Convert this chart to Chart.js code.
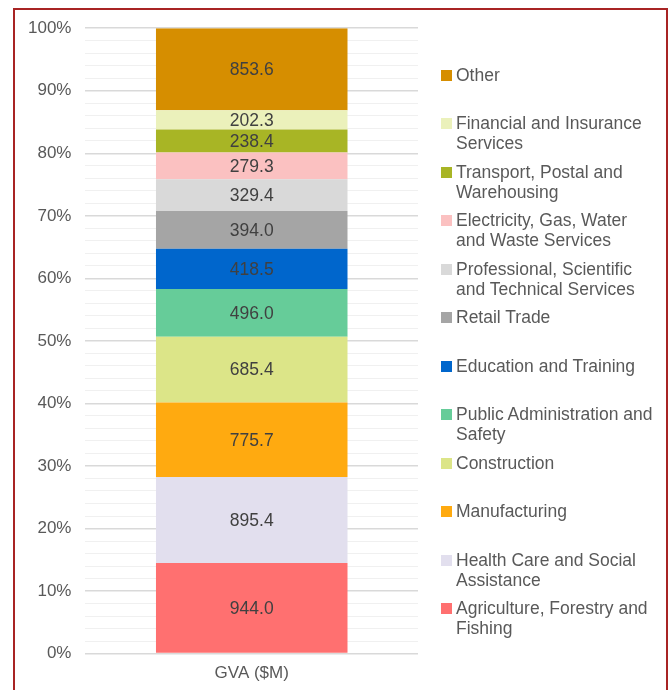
<!DOCTYPE html>
<html>
<head>
<meta charset="utf-8">
<script src="https://cdn.jsdelivr.net/npm/chart.js@4"></script>
<style>
    body { margin: 0; background: #fff; font-family: 'Liberation Sans', Arial, sans-serif; }
    #wrap { position: relative; width: 670px; height: 690px; overflow: hidden; }
    #frame { position: absolute; left: 13px; top: 8px; width: 651px; height: 700px; border: 2px solid #A82424; border-bottom: none; }
    #chartBox { position: absolute; left: 0; top: 4px; width: 670px; height: 686px; }
    #legend { position: absolute; left: 441px; top: 0; width: 222px; }
    .leg-item { position: absolute; left: 0; font-size: 17.5px; line-height: 20px; color: #595959; white-space: nowrap; }
    .leg-box { position: absolute; left: 0; top: 5px; width: 11px; height: 11px; }
    .leg-text { position: absolute; left: 15px; top: 0; }
</style>
</head>
<body>
<div id="wrap">
    <div id="frame"></div>
    <div id="chartBox"><canvas id="gvaChart" width="670" height="686"></canvas></div>
    <div id="legend"></div>
</div>
<script>
// Categories from the bottom of the bar to the top
const industries = [
    ['Agriculture, Forestry and', 'Fishing'],
    ['Health Care and Social', 'Assistance'],
    ['Manufacturing'],
    ['Construction'],
    ['Public Administration and', 'Safety'],
    ['Education and Training'],
    ['Retail Trade'],
    ['Professional, Scientific', 'and Technical Services'],
    ['Electricity, Gas, Water', 'and Waste Services'],
    ['Transport, Postal and', 'Warehousing'],
    ['Financial and Insurance', 'Services'],
    ['Other']
];
const gvaValues = [944.0, 895.4, 775.7, 685.4, 496.0, 418.5, 394.0, 329.4, 279.3, 238.4, 202.3, 853.6];
const colors = ['#FF7070', '#E2DFEE', '#FFAA10', '#DCE588', '#66CC99', '#0066CC',
    '#A5A5A5', '#D9D9D9', '#FBC1C1', '#A8B525', '#EBF1BB', '#D68E00'];
const categoryLabels = ['GVA ($M)'];
const yTicks = [0, 10, 20, 30, 40, 50, 60, 70, 80, 90, 100];

const total = gvaValues.reduce((a, b) => a + b, 0);

// Draws the value in the middle of each segment
const valueLabels = {
    id: 'valueLabels',
    afterDatasetsDraw(chart) {
        const ctx = chart.ctx;
        ctx.save();
        ctx.font = "17.5px 'Liberation Sans', Arial, sans-serif";
        ctx.fillStyle = '#404040';
        ctx.textAlign = 'center';
        ctx.textBaseline = 'middle';
        chart.data.datasets.forEach((ds, i) => {
            const bar = chart.getDatasetMeta(i).data[0];
            const mid = (bar.y + bar.base) / 2;
            ctx.fillText(gvaValues[i].toFixed(1), bar.x, mid + 1);
        });
        ctx.restore();
    }
};

new Chart(document.getElementById('gvaChart'), {
    type: 'bar',
    data: {
        labels: categoryLabels,
        datasets: gvaValues.map((v, i) => ({
            label: industries[i].join(' '),
            data: [v / total * 100],
            backgroundColor: colors[i],
            borderWidth: 0,
            categoryPercentage: 1,
            barPercentage: 0.576
        }))
    },
    options: {
        responsive: false,
        animation: false,
        layout: { padding: { left: 14, right: 252, top: 18, bottom: 4 } },
        plugins: { legend: { display: false }, tooltip: { enabled: false } },
        scales: {
            x: {
                stacked: true,
                grid: { display: false },
                border: { display: false },
                ticks: {
                    color: '#595959',
                    padding: 2,
                    font: { size: 17, family: "'Liberation Sans', Arial, sans-serif" }
                }
            },
            y: {
                stacked: true,
                min: 0,
                max: 100,
                border: { display: false },
                grid: {
                    drawTicks: false,
                    color: c => (c.tick && c.tick.value % 10 === 0) ? '#D9D9D9' : '#F0F0F0',
                    lineWidth: c => (c.tick && c.tick.value % 10 === 0) ? 1.5 : 1
                },
                ticks: {
                    stepSize: 2,
                    autoSkip: false,
                    padding: 14,
                    color: '#595959',
                    font: { size: 17, family: "'Liberation Sans', Arial, sans-serif" },
                    callback: v => yTicks.includes(v) ? v + '%' : ''
                }
            }
        }
    },
    plugins: [valueLabels]
});

// Legend: top item is "Other", listed from the top of the bar down
const legendEl = document.getElementById('legend');
const order = gvaValues.map((v, i) => i).reverse();
order.forEach((idx, pos) => {
    const item = document.createElement('div');
    item.className = 'leg-item';
    item.style.top = (65 + pos * 48.45) + 'px';
    item.innerHTML = '<span class="leg-box" style="background:' + colors[idx] + '"></span>' +
        '<span class="leg-text">' + industries[idx].join('<br>') + '</span>';
    legendEl.appendChild(item);
});
</script>
</body>
</html>
